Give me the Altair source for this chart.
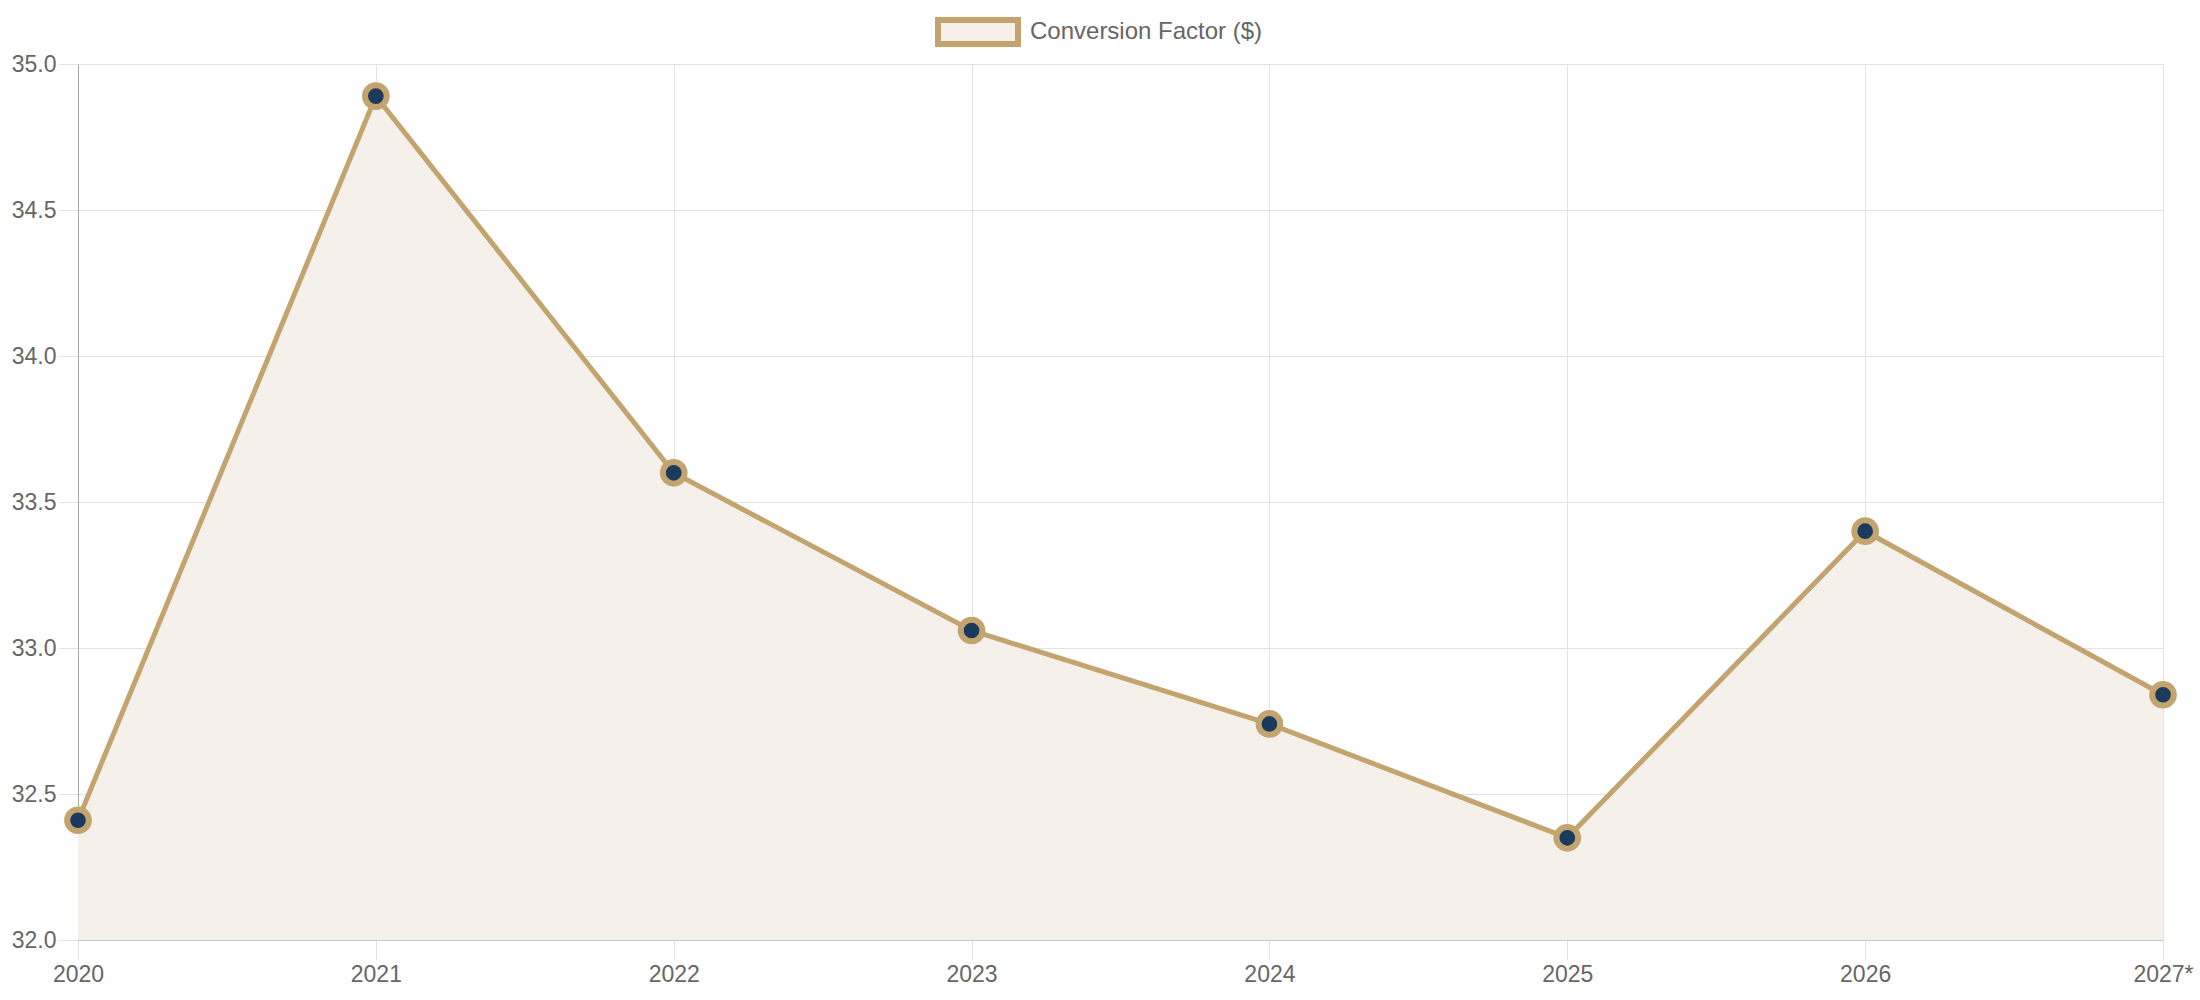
import altair as alt
import pandas as pd

years = [2020, 2021, 2022, 2023, 2024, 2025, 2026, 2027]
values = [32.41, 34.89, 33.60, 33.06, 32.74, 32.35, 33.40, 32.84]
series_name = "Conversion Factor ($)"
y_ticks = [32.0, 32.5, 33.0, 33.5, 34.0, 34.5, 35.0]

df = pd.DataFrame({"year": years, "value": values, "series": [series_name] * len(years)})

GOLD = "#C4A46E"
NAVY = "#1B3A5C"
FILL = "#F5F0EA"
GRID = "#e2e2e2"
TEXT = "#666666"
FONT = "Liberation Sans"

x_enc = alt.X(
    "year:Q",
    scale=alt.Scale(domain=[2020, 2027], nice=False, zero=False),
    axis=alt.Axis(
        values=years,
        title=None,
        labelExpr="datum.value == 2027 ? '2027*' : '' + datum.value",
        grid=True,
        gridColor=GRID,
        tickColor=GRID,
        tickSize=20,
        domainColor="#c8c8c8",
        labelPadding=3,
        labelFontSize=23,
        labelColor=TEXT,
        labelFont=FONT,
        labelFlush=False,
        labelOverlap=False,
    ),
)
y_enc = alt.Y(
    "value:Q",
    scale=alt.Scale(domain=[32.0, 35.0], nice=False, zero=False),
    axis=alt.Axis(
        values=y_ticks,
        format=".1f",
        title=None,
        grid=True,
        gridColor=GRID,
        tickColor=GRID,
        tickSize=20,
        domainColor="#a6a6a6",
        labelPadding=2,
        labelFontSize=23,
        labelColor=TEXT,
        labelFont=FONT,
        labelFlush=False,
        labelOverlap=False,
    ),
)

base = alt.Chart(df)

area = base.mark_area(opacity=1, line=False).encode(
    x=x_enc,
    y=y_enc,
    y2=alt.datum(32.0),
    fill=alt.Fill(
        "series:N",
        scale=alt.Scale(domain=[series_name], range=[FILL]),
        legend=alt.Legend(
            title=None,
            orient="none",
            legendX=857,
            legendY=-75,
            symbolType="M-1,-0.3H1V0.3H-1Z",
            symbolSize=6400,
            symbolStrokeColor=GOLD,
            symbolStrokeWidth=6,
            symbolOpacity=1,
            labelFontSize=24,
            labelColor=TEXT,
            labelFont=FONT,
            labelOffset=9,
            labelLimit=500,
            padding=0,
        ),
    ),
)

line = base.mark_line(color=GOLD, strokeWidth=5).encode(x="year:Q", y="value:Q")

points = base.mark_point(
    shape="circle", filled=True, fill=NAVY, stroke=GOLD, strokeWidth=6, size=470, opacity=1
).encode(x="year:Q", y="value:Q")

chart = (
    alt.layer(area, line, points)
    .properties(
        width=2085,
        height=876,
        autosize=alt.AutoSizeParams(type="none"),
        padding={"left": 78, "top": 64, "right": 37, "bottom": 60},
    )
    .configure_view(stroke=None)
    .configure(background="white")
)

chart.save("out.html", embed_options={"renderer": "svg", "actions": False})
